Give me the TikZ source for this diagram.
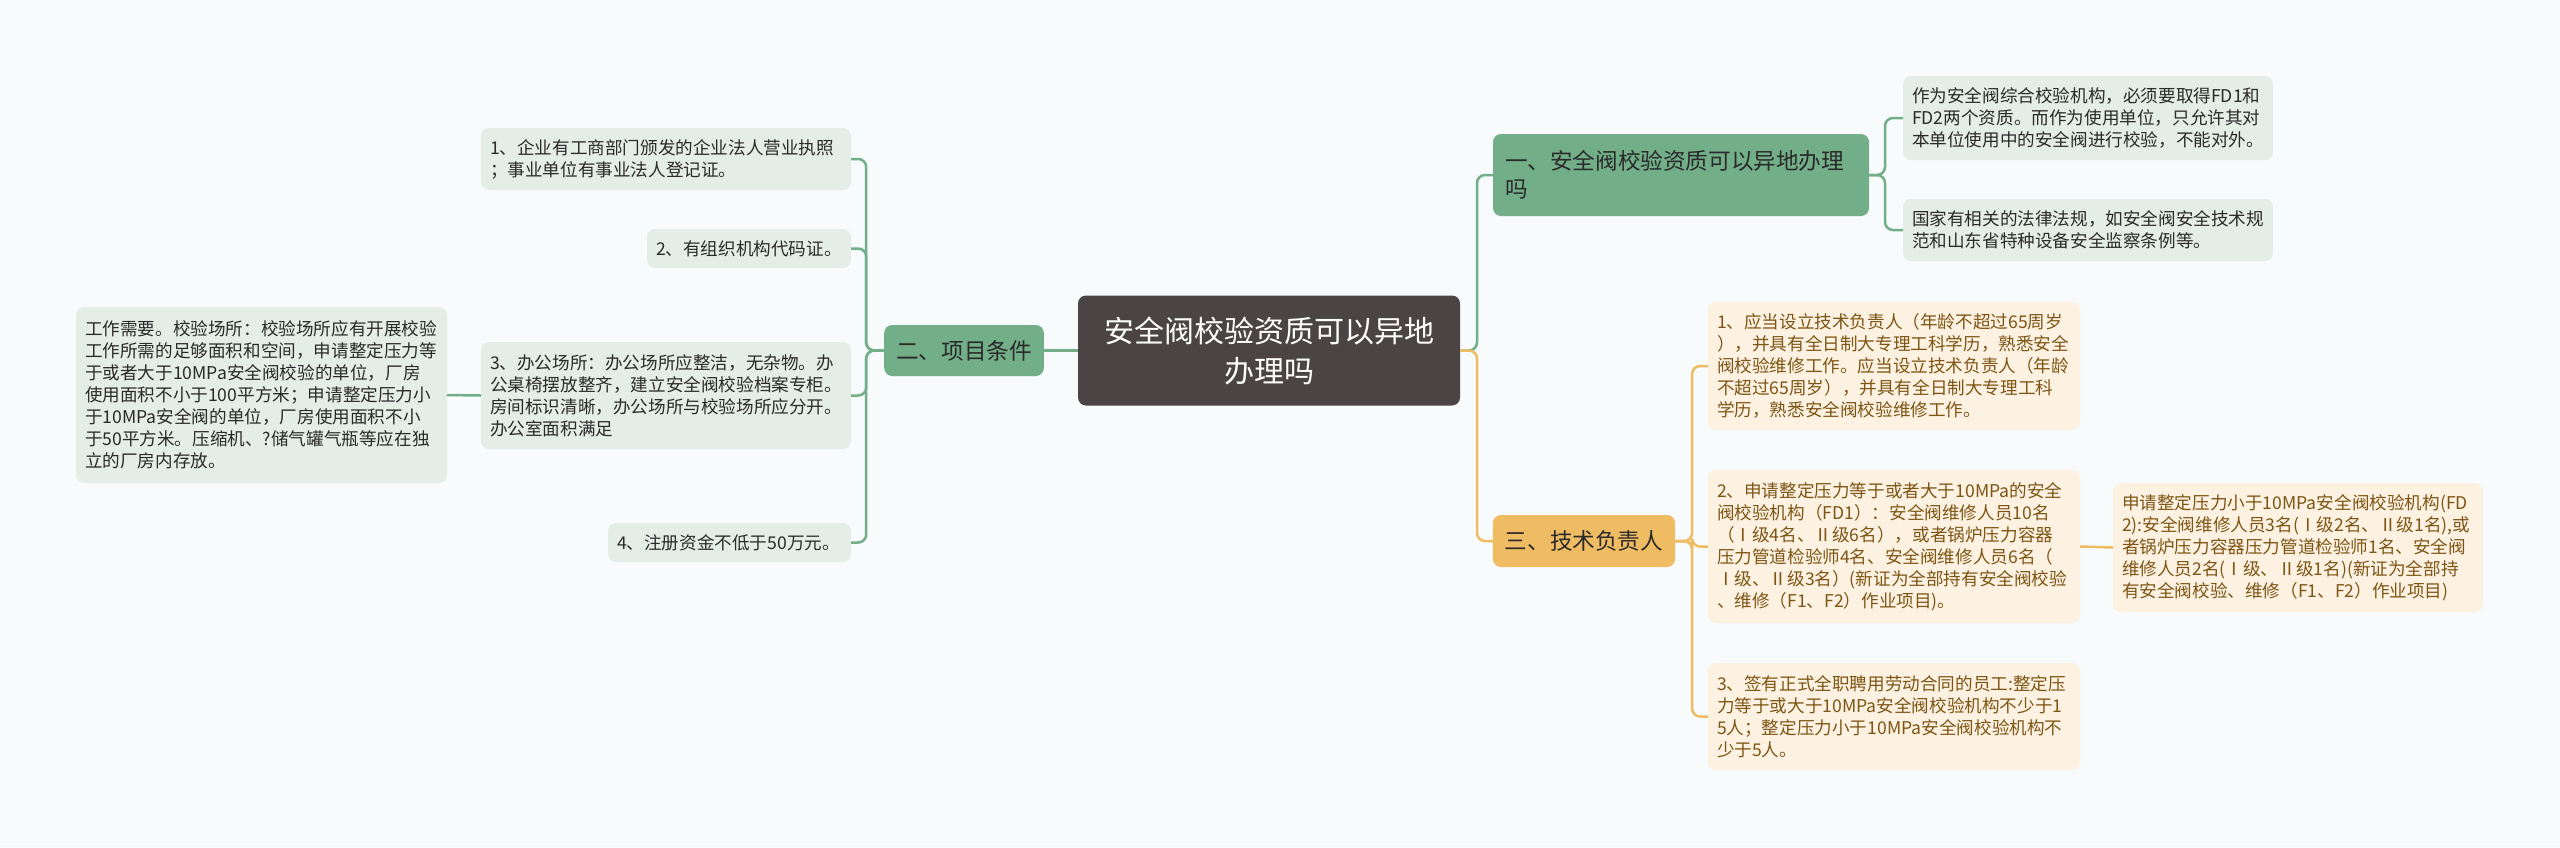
\documentclass[tikz,border=0pt]{standalone}
\usepackage{fontspec}
\setmainfont{Noto Sans CJK SC}
\definecolor{bgcol}{HTML}{F7FBFC}
\definecolor{rootcol}{HTML}{4A4444}
\definecolor{grncol}{HTML}{72AF88}
\definecolor{grnleaf}{HTML}{E4EEE7}
\definecolor{orgcol}{HTML}{F0BC63}
\definecolor{orgleaf}{HTML}{FDF1E2}
\definecolor{orgtext}{HTML}{7D5514}
\definecolor{darktext}{HTML}{2A2A2A}

\begin{document}
\begin{tikzpicture}[x=0.5pt,y=-0.5pt,every node/.style={outer sep=0pt},
 root/.style={fill=rootcol,text=white,rounded corners=4pt,align=center,
 minimum width=191pt,minimum height=55pt,font=\fontsize{15}{20}\selectfont},
 gtopic/.style={fill=grncol,text=darktext,rounded corners=4pt,inner xsep=6pt,
 font=\fontsize{11.3}{14}\selectfont},
 otopic/.style={gtopic,fill=orgcol},
 gleaf/.style={fill=grnleaf,text=darktext,rounded corners=4pt,align=left,
 inner xsep=4.5pt,inner ysep=0pt,font=\fontsize{8.8}{11}\selectfont},
 oleaf/.style={gleaf,fill=orgleaf,text=orgtext},
 glink/.style={draw=grncol,line width=1.25pt,rounded corners=4pt},
 olink/.style={glink,draw=orgcol}]

\fill[bgcol] (0,0) rectangle (2560,847);
\useasboundingbox (0,0) rectangle (2560,847);

\node[root] (main) at (1269,350.5) {安全阀校验资质可以异地\\办理吗};

\node[gtopic,minimum width=188pt,minimum height=41pt,text width=176pt,align=left] (zizhi) at (1681,175) {一、安全阀校验资质可以异地办理\\吗};
\node[gtopic,minimum width=79pt,minimum height=25.5pt] (tiaojian) at (964,350.5) {二、项目条件};
\node[otopic,minimum width=91pt,minimum height=26pt] (fuzeren) at (1584,541) {三、技术负责人};

% 项目条件
\node[gleaf,text width=176pt,minimum height=31pt] (tj1) at (666,159) {1、企业有工商部门颁发的企业法人营业执照\\；事业单位有事业法人登记证。};
\node[gleaf,text width=93pt,minimum height=19.5pt] (tj2) at (749,248.5) {2、有组织机构代码证。};
\node[gleaf,text width=176pt,minimum height=53.5pt] (tj3) at (666,395.5) {3、办公场所：办公场所应整洁，无杂物。办\\公桌椅摆放整齐，建立安全阀校验档案专柜。\\房间标识清晰，办公场所与校验场所应分开。\\办公室面积满足};
\node[gleaf,text width=112.5pt,minimum height=19.5pt] (tj4) at (729.5,542.5) {4、注册资金不低于50万元。};
\node[gleaf,text width=176.5pt,minimum height=88pt] (changsuo) at (261.5,395) {工作需要。校验场所：校验场所应有开展校验\\工作所需的足够面积和空间，申请整定压力等\\于或者大于10MPa安全阀校验的单位，厂房\\使用面积不小于100平方米；申请整定压力小\\于10MPa安全阀的单位，厂房使用面积不小\\于50平方米。压缩机、?储气罐气瓶等应在独\\立的厂房内存放。};

% 资质
\node[gleaf,text width=176pt,minimum height=42pt] (zz1) at (2088,118) {作为安全阀综合校验机构，必须要取得FD1和\\FD2两个资质。而作为使用单位，只允许其对\\本单位使用中的安全阀进行校验，不能对外。};
\node[gleaf,text width=176pt,minimum height=31pt] (zz2) at (2088,230) {国家有相关的法律法规，如安全阀安全技术规\\范和山东省特种设备安全监察条例等。};

% 技术负责人
\node[oleaf,text width=177pt,minimum height=64pt] (fz1) at (1894,366) {1、应当设立技术负责人（年龄不超过65周岁\\），并具有全日制大专理工科学历，熟悉安全\\阀校验维修工作。应当设立技术负责人（年龄\\不超过65周岁），并具有全日制大专理工科\\学历，熟悉安全阀校验维修工作。};
\node[oleaf,text width=177pt,minimum height=76.5pt] (fz2) at (1894,546.5) {2、申请整定压力等于或者大于10MPa的安全\\阀校验机构（FD1）：安全阀维修人员10名\\（Ⅰ级4名、Ⅱ级6名），或者锅炉压力容器\\压力管道检验师4名、安全阀维修人员6名（\\Ⅰ级、Ⅱ级3名）(新证为全部持有安全阀校验\\、维修（F1、F2）作业项目)。};
\node[oleaf,text width=177pt,minimum height=53.5pt] (fz3) at (1894,716.5) {3、签有正式全职聘用劳动合同的员工:整定压\\力等于或大于10MPa安全阀校验机构不少于1\\5人；整定压力小于10MPa安全阀校验机构不\\少于5人。};
\node[oleaf,text width=176pt,minimum height=64.5pt] (fd2) at (2298,547.5) {申请整定压力小于10MPa安全阀校验机构(FD\\2):安全阀维修人员3名(Ⅰ级2名、Ⅱ级1名),或\\者锅炉压力容器压力管道检验师1名、安全阀\\维修人员2名(Ⅰ级、Ⅱ级1名)(新证为全部持\\有安全阀校验、维修（F1、F2）作业项目)};

\draw[glink] (main.west) -- (tiaojian.east);
\draw[glink] (main.east) -- ++(17,0) |- (zizhi.west);
\draw[olink] (main.east) -- ++(17,0) |- (fuzeren.west);

\foreach \n in {tj1,tj2,tj3,tj4}
 \draw[glink] (tiaojian.west) -- ++(-18,0) |- (\n.east);
\draw[glink] (tj3.west) -- (changsuo.east);

\foreach \n in {zz1,zz2}
 \draw[glink] (zizhi.east) -- ++(16,0) |- (\n.west);

\foreach \n in {fz1,fz2,fz3}
 \draw[olink] (fuzeren.east) -- ++(17,0) |- (\n.west);
\draw[olink] (fz2.east) -- (fd2.west);

\end{tikzpicture}
\end{document}
